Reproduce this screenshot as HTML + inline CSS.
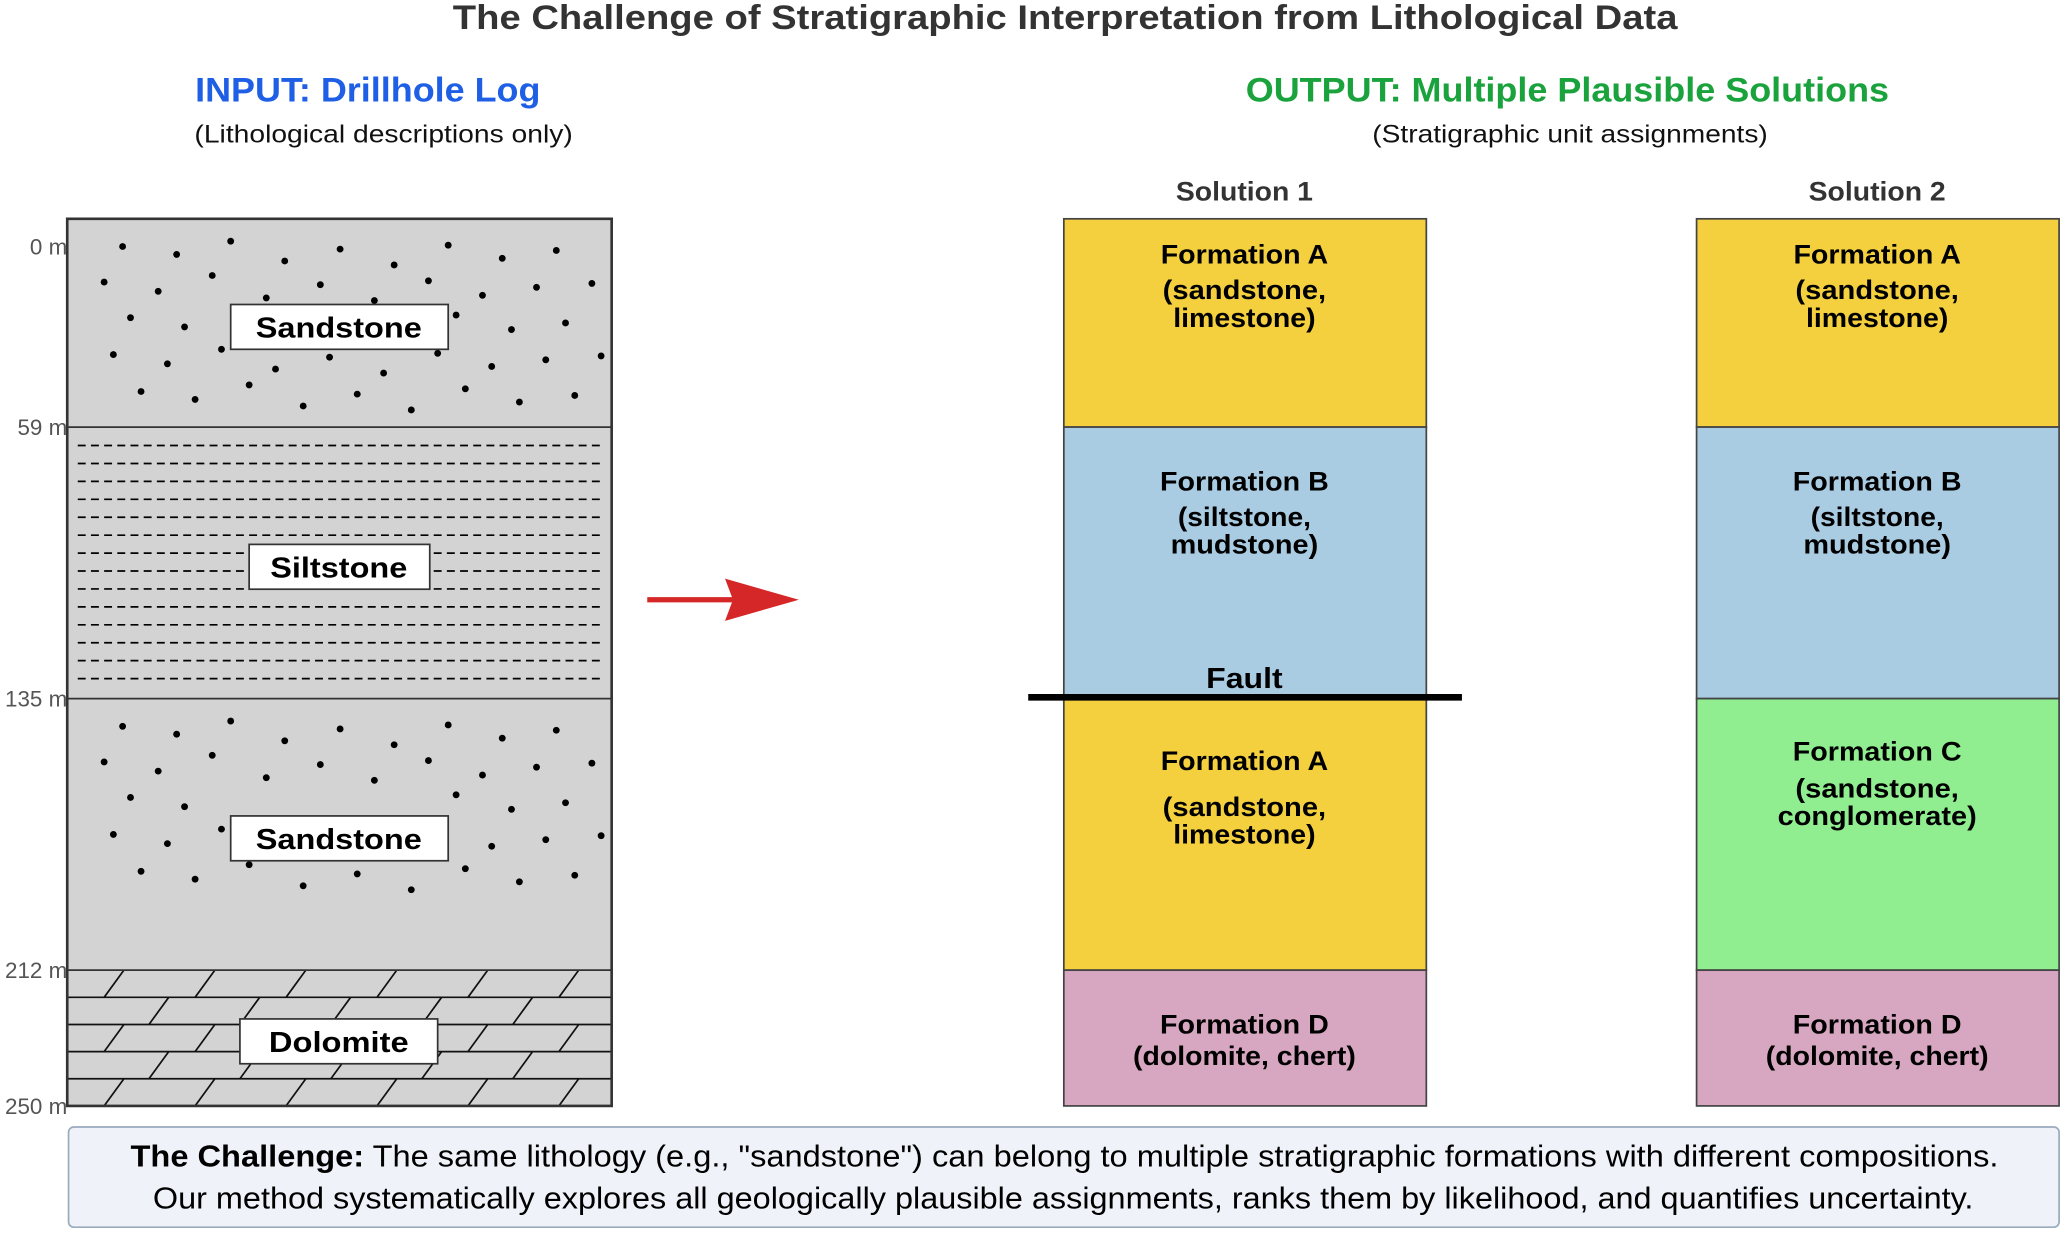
<!DOCTYPE html>
<html><head><meta charset="utf-8"><style>
html,body{margin:0;padding:0;background:#fff;}
svg{display:block;}
text{font-family:"Liberation Sans",Arial,sans-serif;}
</style></head><body>
<svg width="2067" height="1233" viewBox="0 0 1568 935.4" preserveAspectRatio="none" xmlns="http://www.w3.org/2000/svg">
<defs>
<g id="dotset" fill="#000">
<circle cx="93" cy="187" r="2.6"/><circle cx="134" cy="193" r="2.6"/><circle cx="175" cy="183" r="2.6"/><circle cx="216" cy="198" r="2.6"/><circle cx="258" cy="189" r="2.6"/><circle cx="299" cy="201" r="2.6"/><circle cx="340" cy="186" r="2.6"/><circle cx="381" cy="196" r="2.6"/><circle cx="422" cy="190" r="2.6"/>
<circle cx="79" cy="214" r="2.6"/><circle cx="120" cy="221" r="2.6"/><circle cx="161" cy="209" r="2.6"/><circle cx="202" cy="226" r="2.6"/><circle cx="243" cy="216" r="2.6"/><circle cx="284" cy="228" r="2.6"/><circle cx="325" cy="213" r="2.6"/><circle cx="366" cy="224" r="2.6"/><circle cx="407" cy="218" r="2.6"/><circle cx="449" cy="215" r="2.6"/>
<circle cx="99" cy="241" r="2.6"/><circle cx="140" cy="248" r="2.6"/><circle cx="346" cy="239" r="2.6"/><circle cx="388" cy="250" r="2.6"/><circle cx="429" cy="245" r="2.6"/>
<circle cx="86" cy="269" r="2.6"/><circle cx="127" cy="276" r="2.6"/><circle cx="168" cy="265" r="2.6"/><circle cx="209" cy="280" r="2.6"/><circle cx="250" cy="271" r="2.6"/><circle cx="291" cy="283" r="2.6"/><circle cx="332" cy="268" r="2.6"/><circle cx="373" cy="278" r="2.6"/><circle cx="414" cy="273" r="2.6"/><circle cx="456" cy="270" r="2.6"/>
<circle cx="107" cy="297" r="2.6"/><circle cx="148" cy="303" r="2.6"/><circle cx="189" cy="292" r="2.6"/><circle cx="230" cy="308" r="2.6"/><circle cx="271" cy="299" r="2.6"/><circle cx="312" cy="311" r="2.6"/><circle cx="353" cy="295" r="2.6"/><circle cx="394" cy="305" r="2.6"/><circle cx="436" cy="300" r="2.6"/>
</g>
</defs>

<text x="808" y="22" text-anchor="middle" font-size="26" font-weight="bold" fill="#333" textLength="929" lengthAdjust="spacingAndGlyphs">The Challenge of Stratigraphic Interpretation from Lithological Data</text>
<text x="279" y="77" text-anchor="middle" font-size="26" font-weight="bold" fill="#1f5fe6" textLength="262" lengthAdjust="spacingAndGlyphs">INPUT: Drillhole Log</text>
<text x="291" y="108" text-anchor="middle" font-size="19" fill="#111" textLength="287" lengthAdjust="spacingAndGlyphs">(Lithological descriptions only)</text>
<text x="1189" y="77" text-anchor="middle" font-size="26" font-weight="bold" fill="#1aa33c" textLength="488" lengthAdjust="spacingAndGlyphs">OUTPUT: Multiple Plausible Solutions</text>
<text x="1191" y="108" text-anchor="middle" font-size="19" fill="#111" textLength="300" lengthAdjust="spacingAndGlyphs">(Stratigraphic unit assignments)</text>

<!-- Log -->
<rect x="51" y="166" width="413" height="673" fill="#d3d3d3"/>
<use href="#dotset"/>
<use href="#dotset" transform="translate(0,364)"/>
<g stroke="#000" stroke-width="1.3" stroke-dasharray="6,4">
<line x1="59" y1="338" x2="457" y2="338"/><line x1="59" y1="351.6" x2="457" y2="351.6"/><line x1="59" y1="365.2" x2="457" y2="365.2"/><line x1="59" y1="378.8" x2="457" y2="378.8"/><line x1="59" y1="392.4" x2="457" y2="392.4"/><line x1="59" y1="406" x2="457" y2="406"/><line x1="59" y1="419.6" x2="457" y2="419.6"/><line x1="59" y1="433.2" x2="457" y2="433.2"/><line x1="59" y1="446.8" x2="457" y2="446.8"/><line x1="59" y1="460.4" x2="457" y2="460.4"/><line x1="59" y1="474" x2="457" y2="474"/><line x1="59" y1="487.6" x2="457" y2="487.6"/><line x1="59" y1="501.2" x2="457" y2="501.2"/><line x1="59" y1="514.8" x2="457" y2="514.8"/>
</g>
<g stroke="#111" stroke-width="1.3">
<line x1="51" y1="756.6" x2="464" y2="756.6"/><line x1="51" y1="777.2" x2="464" y2="777.2"/><line x1="51" y1="797.8" x2="464" y2="797.8"/><line x1="51" y1="818.4" x2="464" y2="818.4"/>
<path d="M79 756.6L94 736M148 756.6L163 736M217 756.6L232 736M286 756.6L301 736M355 756.6L370 736M424 756.6L439 736"/>
<path d="M79 797.8L94 777.2M148 797.8L163 777.2M217 797.8L232 777.2M286 797.8L301 777.2M355 797.8L370 777.2M424 797.8L439 777.2"/>
<path d="M79 839L94 818.4M148 839L163 818.4M217 839L232 818.4M286 839L301 818.4M355 839L370 818.4M424 839L439 818.4"/>
<path d="M113 777.2L128 756.6M182 777.2L197 756.6M251 777.2L266 756.6M320 777.2L335 756.6M389 777.2L404 756.6"/>
<path d="M113 818.4L128 797.8M182 818.4L197 797.8M251 818.4L266 797.8M320 818.4L335 797.8M389 818.4L404 797.8"/>
</g>
<g stroke="#333" stroke-width="1.3" fill="none">
<line x1="51" y1="324" x2="464" y2="324"/><line x1="51" y1="530" x2="464" y2="530"/><line x1="51" y1="736" x2="464" y2="736"/>
<rect x="51" y="166" width="413" height="673" stroke-width="2"/>
</g>
<g fill="#fff" stroke="#333" stroke-width="1.3">
<rect x="175" y="231" width="165" height="34"/><rect x="189" y="413" width="137" height="34"/><rect x="175" y="619" width="165" height="34"/><rect x="182" y="773" width="150" height="34"/>
</g>
<g font-size="22" font-weight="bold" text-anchor="middle" fill="#000" lengthAdjust="spacingAndGlyphs">
<text x="257" y="256" textLength="126" lengthAdjust="spacingAndGlyphs">Sandstone</text><text x="257" y="438" textLength="104" lengthAdjust="spacingAndGlyphs">Siltstone</text><text x="257" y="644" textLength="126" lengthAdjust="spacingAndGlyphs">Sandstone</text><text x="257" y="798" textLength="106" lengthAdjust="spacingAndGlyphs">Dolomite</text>
</g>
<g font-size="17" fill="#555" text-anchor="end">
<text x="51" y="193">0 m</text><text x="51" y="330">59 m</text><text x="51" y="536">135 m</text><text x="51" y="742">212 m</text><text x="51" y="845">250 m</text>
</g>

<!-- Arrow -->
<line x1="491" y1="455" x2="556" y2="455" stroke="#d62728" stroke-width="4"/>
<polygon points="550,439 606,455 550,471 556,455" fill="#d62728"/>

<!-- Solution 1 -->
<text x="944" y="152" text-anchor="middle" font-size="20" font-weight="bold" fill="#333" textLength="104" lengthAdjust="spacingAndGlyphs">Solution 1</text>
<g stroke="#444" stroke-width="1.3">
<rect x="807" y="166" width="275" height="158" fill="#f4d03f"/>
<rect x="807" y="324" width="275" height="206" fill="#a9cce3"/>
<rect x="807" y="530" width="275" height="206" fill="#f4d03f"/>
<rect x="807" y="736" width="275" height="103" fill="#d7a6c0"/>
</g>
<line x1="780" y1="529" x2="1109" y2="529" stroke="#000" stroke-width="5"/>
<g font-size="20" font-weight="bold" text-anchor="middle" fill="#000">
<text x="944" y="200" textLength="127" lengthAdjust="spacingAndGlyphs">Formation A</text><text x="944" y="227" textLength="124" lengthAdjust="spacingAndGlyphs">(sandstone,</text><text x="944" y="248" textLength="108" lengthAdjust="spacingAndGlyphs">limestone)</text>
<text x="944" y="372" textLength="128" lengthAdjust="spacingAndGlyphs">Formation B</text><text x="944" y="399" textLength="101" lengthAdjust="spacingAndGlyphs">(siltstone,</text><text x="944" y="420" textLength="112" lengthAdjust="spacingAndGlyphs">mudstone)</text>
<text x="944" y="522" font-size="22" textLength="58" lengthAdjust="spacingAndGlyphs">Fault</text>
<text x="944" y="584" textLength="127" lengthAdjust="spacingAndGlyphs">Formation A</text><text x="944" y="619" textLength="124" lengthAdjust="spacingAndGlyphs">(sandstone,</text><text x="944" y="640" textLength="108" lengthAdjust="spacingAndGlyphs">limestone)</text>
<text x="944" y="784" textLength="128" lengthAdjust="spacingAndGlyphs">Formation D</text><text x="944" y="808" textLength="169" lengthAdjust="spacingAndGlyphs">(dolomite, chert)</text>
</g>

<!-- Solution 2 -->
<text x="1424" y="152" text-anchor="middle" font-size="20" font-weight="bold" fill="#333" textLength="104" lengthAdjust="spacingAndGlyphs">Solution 2</text>
<g stroke="#444" stroke-width="1.3">
<rect x="1287" y="166" width="275" height="158" fill="#f4d03f"/>
<rect x="1287" y="324" width="275" height="206" fill="#a9cce3"/>
<rect x="1287" y="530" width="275" height="206" fill="#90ee90"/>
<rect x="1287" y="736" width="275" height="103" fill="#d7a6c0"/>
</g>
<g font-size="20" font-weight="bold" text-anchor="middle" fill="#000">
<text x="1424" y="200" textLength="127" lengthAdjust="spacingAndGlyphs">Formation A</text><text x="1424" y="227" textLength="124" lengthAdjust="spacingAndGlyphs">(sandstone,</text><text x="1424" y="248" textLength="108" lengthAdjust="spacingAndGlyphs">limestone)</text>
<text x="1424" y="372" textLength="128" lengthAdjust="spacingAndGlyphs">Formation B</text><text x="1424" y="399" textLength="101" lengthAdjust="spacingAndGlyphs">(siltstone,</text><text x="1424" y="420" textLength="112" lengthAdjust="spacingAndGlyphs">mudstone)</text>
<text x="1424" y="577" textLength="128" lengthAdjust="spacingAndGlyphs">Formation C</text><text x="1424" y="605" textLength="124" lengthAdjust="spacingAndGlyphs">(sandstone,</text><text x="1424" y="626" textLength="151" lengthAdjust="spacingAndGlyphs">conglomerate)</text>
<text x="1424" y="784" textLength="128" lengthAdjust="spacingAndGlyphs">Formation D</text><text x="1424" y="808" textLength="169" lengthAdjust="spacingAndGlyphs">(dolomite, chert)</text>
</g>

<!-- Bottom box -->
<rect x="52" y="855" width="1510" height="76" rx="4" fill="#eff3f9" stroke="#9aabbd" stroke-width="1.3"/>
<text x="807.5" y="885" text-anchor="middle" font-size="23" fill="#000" textLength="1417" lengthAdjust="spacingAndGlyphs"><tspan font-weight="bold">The Challenge:</tspan> The same lithology (e.g., "sandstone") can belong to multiple stratigraphic formations with different compositions.</text>
<text x="806.5" y="917" text-anchor="middle" font-size="23" fill="#000" textLength="1381" lengthAdjust="spacingAndGlyphs">Our method systematically explores all geologically plausible assignments, ranks them by likelihood, and quantifies uncertainty.</text>
</svg>
</body></html>
